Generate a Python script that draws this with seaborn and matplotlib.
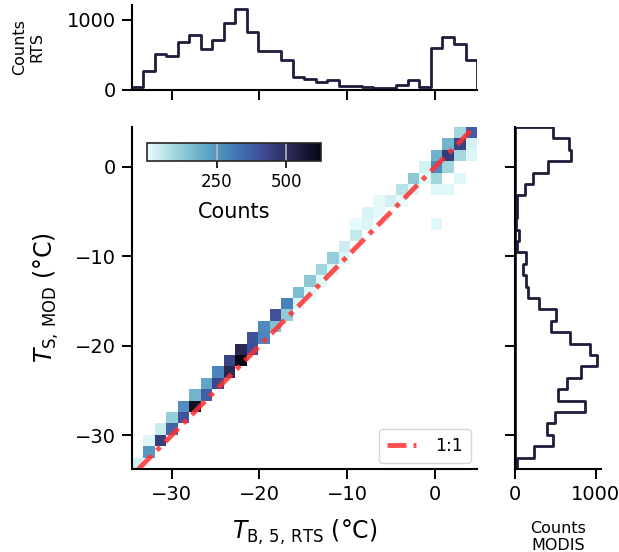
import numpy as np
import pandas as pd
import matplotlib
matplotlib.use("Agg")
import matplotlib.pyplot as plt
from matplotlib.colors import LinearSegmentedColormap
import seaborn as sns

sns.set_style("ticks")
plt.rcParams['font.family'] = ['DejaVu Sans']
plt.rcParams.update({'text.color': 'black', 'axes.labelcolor': 'black',
                     'xtick.color': 'black', 'ytick.color': 'black'})

# bin ranges (deg C) and number of bins per axis
rts_range = (-34.5, 4.75)
modis_range = (-33.75, 4.45)
n_bins = 30

# marginal counts (RTS left->right, MODIS bottom->top)
rts_counts = [38, 268, 507, 488, 681, 784, 587, 714, 958, 1155,
              822, 563, 554, 427, 183, 150, 113, 136, 61, 61,
              42, 23, 33, 75, 146, 38, 596, 761, 653, 432]
modis_counts = [21, 241, 469, 402, 498, 863, 539, 651, 822, 1017,
                925, 685, 448, 506, 303, 166, 137, 104, 133, 29,
                54, 12, 21, 29, 124, 228, 415, 697, 672, 477]

# non-empty 2d cells: RTS bin index, MODIS bin index, count
cell_ix = [0, 1, 1, 2, 2, 3, 3, 4, 4, 5, 5, 6, 6, 7, 7, 8, 8, 9, 9,
           10, 10, 11, 11, 12, 12, 13, 13, 14, 14, 15, 15, 16, 16, 17, 17,
           18, 18, 19, 19, 20, 20, 21, 21, 22, 23, 23, 24, 24, 25, 25,
           26, 26, 26, 26, 26, 27, 27, 27, 27, 28, 28, 28, 28, 29, 29, 29]
cell_iy = [0, 1, 2, 2, 3, 3, 4, 4, 5, 5, 6, 6, 7, 7, 8, 8, 9, 9, 10,
           10, 11, 11, 12, 12, 13, 13, 14, 14, 15, 15, 16, 16, 17, 17, 18,
           18, 19, 20, 21, 21, 22, 22, 23, 23, 23, 24, 24, 25, 25, 26,
           21, 24, 25, 26, 27, 24, 26, 27, 28, 25, 27, 28, 29, 27, 28, 29]
cell_n = [35, 245, 18, 455, 45, 360, 118, 400, 270, 595, 180, 370, 210, 430, 290, 520, 438, 625, 520,
          410, 405, 285, 275, 150, 400, 125, 295, 22, 160, 15, 135, 13, 100, 16, 118,
          16, 42, 52, 9, 20, 22, 12, 11, 33, 5, 70, 15, 130, 8, 30,
          15, 15, 100, 280, 185, 15, 100, 460, 180, 15, 95, 440, 100, 18, 30, 380]

x_edges = np.linspace(rts_range[0], rts_range[1], n_bins + 1)
y_edges = np.linspace(modis_range[0], modis_range[1], n_bins + 1)
x_mid = (x_edges[:-1] + x_edges[1:]) / 2
y_mid = (y_edges[:-1] + y_edges[1:]) / 2

cells = pd.DataFrame({
    'rts': x_mid[cell_ix],
    'modis': y_mid[cell_iy],
    'n': cell_n,
})
rts_df = pd.DataFrame({'rts': x_mid, 'n': rts_counts})
modis_df = pd.DataFrame({'modis': y_mid, 'n': modis_counts})

# approximation of cmocean ice_r
ice_r = LinearSegmentedColormap.from_list(
    'ice_r', ['#eafdfd', '#9cd4da', '#61a8c7', '#427bb7', '#3f4b96', '#292851', '#040613'])
line_color = '#1e1d3c'

fig = plt.figure(figsize=(6.19, 5.52), dpi=100)
ax = fig.add_axes([0.2132, 0.1504, 0.5574, 0.6196])
ax_top = fig.add_axes([0.2132, 0.837, 0.5574, 0.154])
ax_right = fig.add_axes([0.832, 0.1504, 0.139, 0.6196])
cax = fig.add_axes([0.2375, 0.708, 0.281, 0.0326])

sns.histplot(data=cells, x='rts', y='modis', weights='n',
             bins=n_bins, binrange=(rts_range, modis_range),
             cmap=ice_r, vmin=0, vmax=625, cbar=True, cbar_ax=cax,
             cbar_kws={'orientation': 'horizontal'}, ax=ax)
ax.axline((0, 0), slope=1, color='#ff3030', alpha=0.85, lw=3.5,
          dashes=(3.9, 1.45, 1.0, 1.45), label='1:1')

ax.set_xlim(rts_range)
ax.set_ylim(modis_range)
ax.set_xticks([-30, -20, -10, 0])
ax.set_yticks([-30, -20, -10, 0])
ax.set_xlabel(r'$T_{\mathrm{B,\,5,\,RTS}}$ (°C)', fontsize=17, labelpad=10)
ax.set_ylabel(r'$T_{\mathrm{S,\,MOD}}$ (°C)', fontsize=17, labelpad=10)
ax.legend(loc='lower right', fontsize=12.5, handlelength=1.7, borderpad=0.45,
          handletextpad=1.1, borderaxespad=0.35)

# marginal histograms
sns.histplot(data=rts_df, x='rts', weights='n', bins=n_bins, binrange=rts_range,
             element='step', fill=True, color=line_color, facecolor='none',
             edgecolor=line_color, linewidth=2, ax=ax_top)
sns.histplot(data=modis_df, y='modis', weights='n', bins=n_bins, binrange=modis_range,
             element='step', fill=True, color=line_color, facecolor='none',
             edgecolor=line_color, linewidth=2, ax=ax_right)

ax_top.set_xlim(rts_range)
ax_top.set_xticks([-30, -20, -10, 0])
ax_top.tick_params(labelbottom=False)
ax_top.set_yticks([0, 1000])
ax_top.set_ylabel('Counts\nRTS', fontsize=11.5, labelpad=16)
ax_top.set_xlabel('')

ax_right.set_ylim(modis_range)
ax_right.set_yticks([-30, -20, -10, 0])
ax_right.tick_params(labelleft=False)
ax_right.set_xticks([0, 1000])
ax_right.set_xlabel('Counts\nMODIS', fontsize=11.5, labelpad=12)
ax_right.set_ylabel('')

for a in (ax, ax_top, ax_right):
    sns.despine(ax=a)
    for s in a.spines.values():
        s.set_linewidth(1.5)
        s.set_color('black')
    a.tick_params(labelsize=14, width=1.4, length=7.5, pad=4, color='black')

# colorbar
cax.set_xticks([250, 500])
cax.tick_params(labelsize=12, width=1.2, length=5, color='black')
cax.set_xlabel('Counts', fontsize=15, labelpad=8)
for s in cax.spines.values():
    s.set_linewidth(1.2)
for t in (250, 500):
    cax.axvline(t, color='#b8b8b8', lw=1.2)

fig.savefig('out.png', dpi=100)
